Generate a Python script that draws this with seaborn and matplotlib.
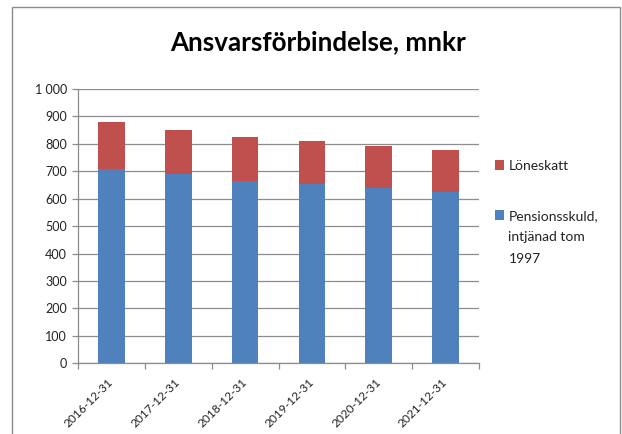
import matplotlib
matplotlib.use("Agg")
import matplotlib.pyplot as plt
import seaborn as sns
import pandas as pd
from matplotlib.patches import Rectangle

categories = ["2016-12-31", "2017-12-31", "2018-12-31", "2019-12-31", "2020-12-31", "2021-12-31"]
pension = [710, 689, 663, 652, 638, 626]
loneskatt = [170, 163, 161, 160, 156, 152]
yticks = [0, 100, 200, 300, 400, 500, 600, 700, 800, 900, 1000]
ytick_labels = ["0", "100", "200", "300", "400", "500", "600", "700", "800", "900", "1 000"]
title = "Ansvarsförbindelse, mnkr"
label_red = "Löneskatt"
label_blue_first = "Pensionsskuld,"
label_blue_rest = ["intjänad tom", "1997"]

sns.set_theme(style="white")
plt.rcParams["font.family"] = ["Lato", "DejaVu Sans"]

W, H = 622, 434
fig = plt.figure(figsize=(W / 100, H / 100), dpi=100)
ax = fig.add_axes([78 / W, 1 - 363.3 / H, (479 - 78) / W, (363.3 - 89) / H])

df = pd.DataFrame({"cat": categories,
                   "pension": pension,
                   "total": [p + l for p, l in zip(pension, loneskatt)]})

blue = "#4F81BD"
red = "#C0504D"
sns.barplot(data=df, x="cat", y="total", color=red, saturation=1, width=0.4,
            ax=ax, label=label_red, edgecolor="none", legend=False)
sns.barplot(data=df, x="cat", y="pension", color=blue, saturation=1, width=0.4,
            ax=ax, label=label_blue_first, edgecolor="none", legend=False)
if ax.get_legend() is not None:
    ax.get_legend().remove()

ax.set_xlim(-0.5, len(categories) - 0.5)
ax.set_ylim(0, 1000)
ax.set_yticks(yticks)
ax.set_yticklabels(ytick_labels, fontsize=9, color="#222222")
ax.yaxis.grid(True, color="#8C8C8C", linewidth=0.9)
ax.set_axisbelow(True)
ax.set_xlabel("")
ax.set_ylabel("")

ax.set_xticks(range(len(categories)))
ax.set_xticklabels(categories, rotation=45, ha="right", va="center", rotation_mode="anchor",
                   fontsize=8.6, color="#222222")
ax.tick_params(axis="x", which="major", length=0, pad=12)
ax.set_xticks([i - 0.5 for i in range(len(categories) + 1)], minor=True)
ax.tick_params(axis="x", which="minor", length=4, width=0.9, color="#8C8C8C", direction="out", bottom=True)
ax.tick_params(axis="y", length=4, width=0.9, color="#8C8C8C", direction="out", left=True, pad=4)

for side in ["top", "right"]:
    ax.spines[side].set_visible(False)
for side in ["left", "bottom"]:
    ax.spines[side].set_visible(True)
    ax.spines[side].set_color("#8C8C8C")
    ax.spines[side].set_linewidth(0.9)

handles, labels = ax.get_legend_handles_labels()
leg = fig.legend(handles, labels, loc="upper left", bbox_to_anchor=(489 / W, 1 - 154 / H),
                 frameon=False, fontsize=10, handlelength=0.7, handleheight=0.7,
                 handletextpad=0.3, labelspacing=2.75, borderaxespad=0)
for t in leg.get_texts():
    t.set_color("#222222")

fig.canvas.draw()
renderer = fig.canvas.get_renderer()
blue_text = leg.get_texts()[1]
bb = blue_text.get_window_extent(renderer)
x0 = bb.x0 / W
ybase = bb.y0
for i, line in enumerate(label_blue_rest):
    fig.text(x0, (ybase - 21.7 * (i + 1)) / H, line, ha="left", va="bottom",
             fontsize=10, color="#222222")

fig.text(318 / W, 1 - 42 / H, title, ha="center", va="center", fontsize=18.7,
         fontweight="bold", color="black")

border = Rectangle((12 / W, -0.05), (620 - 12) / W, 1 - 7 / H + 0.05,
                   transform=fig.transFigure, fill=False, edgecolor="#8C8C8C",
                   linewidth=1.0)
fig.patches.append(border)

fig.savefig("out.png", dpi=100)
